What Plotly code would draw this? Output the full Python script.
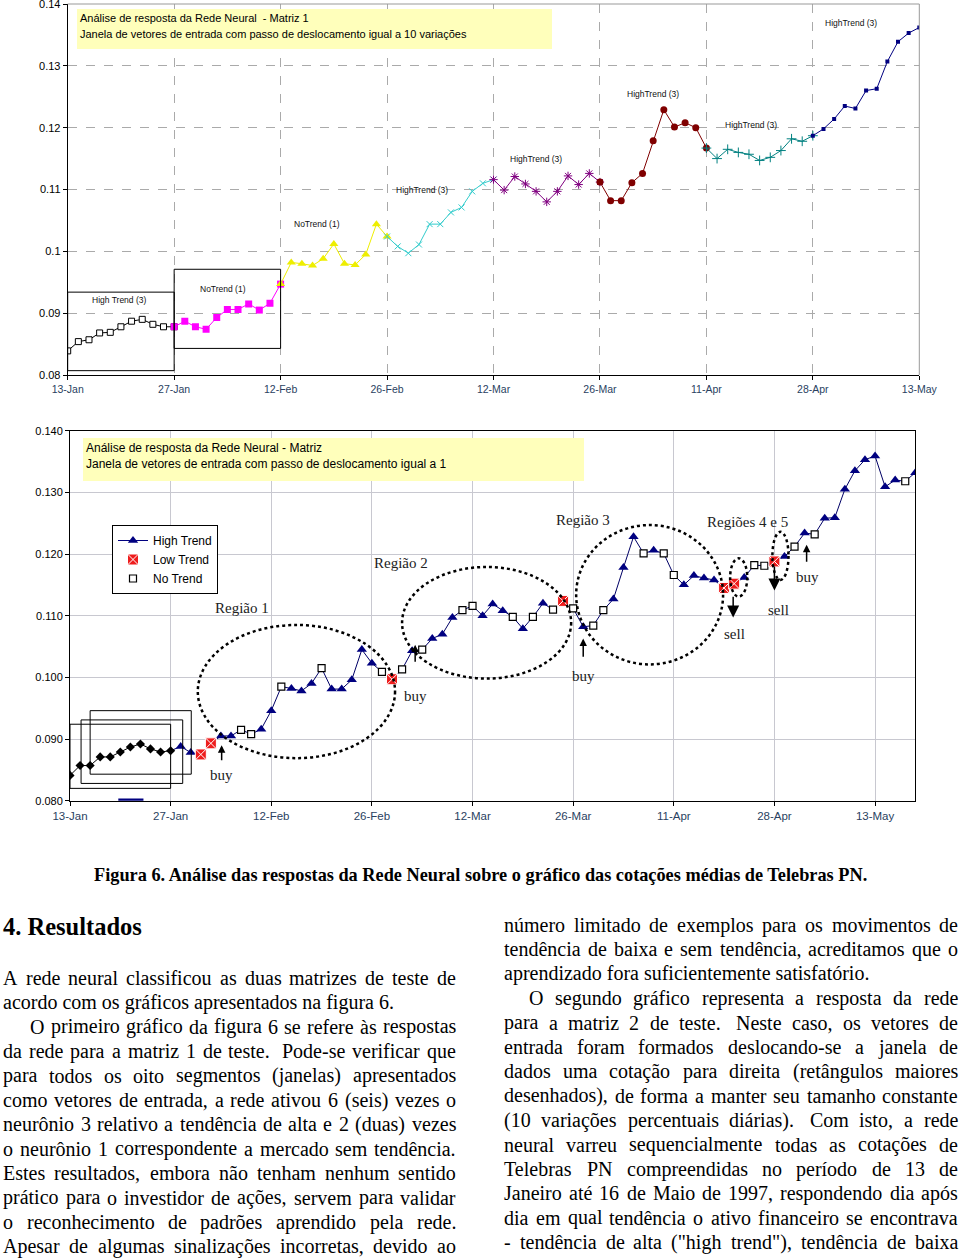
import unicodedata
import plotly.graph_objects as go

W, H = 960, 1258

# eixo x comum aos dois graficos (dias de pregao)
datas = ['13-Jan', '27-Jan', '12-Feb', '26-Feb', '12-Mar', '26-Mar', '11-Apr', '28-Apr', '13-May']
pos_datas = [0, 10, 20, 30, 40, 50, 60, 70, 80]

# grafico 1 - matriz 1 (janelas de 10 variacoes)
precos_m1 = [0.0839, 0.0854, 0.0857, 0.0868, 0.0869, 0.0878, 0.0887, 0.0890, 0.0882, 0.0878,
             0.0878, 0.0887, 0.0878, 0.0874, 0.0893, 0.0906, 0.0906, 0.0915, 0.0905, 0.0916,
             0.0947, 0.0982, 0.0980, 0.0977, 0.0988, 0.1012, 0.0980, 0.0978, 0.0995, 0.1044,
             0.1024, 0.1008, 0.0997, 0.1011, 0.1044, 0.1044, 0.1063, 0.1071, 0.1097, 0.1110,
             0.1116, 0.1099, 0.1121, 0.1109, 0.1097, 0.1080, 0.1097, 0.1122, 0.1108, 0.1126,
             0.1112, 0.1082, 0.1082, 0.1111, 0.1126, 0.1179, 0.1229, 0.1201, 0.1208, 0.1200,
             0.1167, 0.1150, 0.1165, 0.1160, 0.1157, 0.1147, 0.1152, 0.1163, 0.1182, 0.1178,
             0.1187, 0.1198, 0.1214, 0.1235, 0.1231, 0.1260, 0.1263, 0.1307, 0.1339, 0.1353,
             0.1362]
rotulos_m1 = ['High Trend (3)', 'NoTrend (1)', 'NoTrend (1)', 'HighTrend (3)',
              'HighTrend (3)', 'HighTrend (3)', 'HighTrend (3)', 'HighTrend (3)']
yticks_m1 = [0.08, 0.09, 0.10, 0.11, 0.12, 0.13, 0.14]
ytext_m1 = ['0.08', '0.09', '0.1', '0.11', '0.12', '0.13', '0.14']

# grafico 2 - matriz 2 (janela deslocada de 1 em 1)
precos_m2 = [0.0841, 0.0857, 0.0857, 0.0871, 0.0871, 0.0879, 0.0887, 0.0892, 0.0884, 0.0879,
             0.0881, 0.0888, 0.0878, 0.0875, 0.0893, 0.0905, 0.0905, 0.0915, 0.0908, 0.0916,
             0.0946, 0.0985, 0.0982, 0.0978, 0.0990, 0.1015, 0.0981, 0.0981, 0.0996, 0.1045,
             0.1023, 0.1009, 0.0997, 0.1013, 0.1043, 0.1045, 0.1063, 0.1070, 0.1097, 0.1109,
             0.1116, 0.1100, 0.1119, 0.1108, 0.1098, 0.1079, 0.1098, 0.1120, 0.1110, 0.1124,
             0.1112, 0.1082, 0.1084, 0.1109, 0.1127, 0.1178, 0.1228, 0.1201, 0.1206, 0.1201,
             0.1166, 0.1150, 0.1165, 0.1161, 0.1158, 0.1145, 0.1152, 0.1162, 0.1182, 0.1181,
             0.1188, 0.1196, 0.1212, 0.1234, 0.1232, 0.1258, 0.1259, 0.1305, 0.1335, 0.1353,
             0.1359, 0.1309, 0.1320, 0.1318, 0.1332]
# E = janela inicial, H = high trend, L = low trend, N = no trend
classe_m2 = list('EEEEEEEEEEE'
                 'HHLLHHNNHH'
                 'NHHHNHHHHH'
                 'NLNHNHHHNN'
                 'HHHNHNHNLN'
                 'HNNHHHNHNN'
                 'HHHHLLHNNL'
                 'HNHNHHHHHH'
                 'HHNH')
yticks_m2 = [0.08, 0.09, 0.10, 0.11, 0.12, 0.13, 0.14]
ytext_m2 = ['0.080', '0.090', '0.100', '0.110', '0.120', '0.130', '0.140']
regioes = ['Região 1', 'Região 2', 'Região 3', 'Regiões 4 e 5']


def px(x):
    return x / W


def py(y):
    return 1 - y / H


fig = go.Figure()

# ---------------- grafico 1 ----------------
cores_m1 = ['#000000', '#ff00ff', '#eeee00', '#33cccc', '#800080', '#800000', '#008080', '#000080']
marcas_m1 = [dict(symbol='square', color='white', size=6, line=dict(color='black', width=1)),
             dict(symbol='square', color='#ff00ff', size=7),
             dict(symbol='triangle-up', color='#eeee00', size=8),
             dict(symbol='x-thin-open', color='#33cccc', size=6, line=dict(color='#33cccc', width=1)),
             dict(symbol='asterisk-open', color='#800080', size=7, line=dict(color='#800080', width=1)),
             dict(symbol='circle', color='#800000', size=7),
             dict(symbol='cross-thin-open', color='#008080', size=7, line=dict(color='#008080', width=1)),
             dict(symbol='square', color='#000080', size=4)]
for k in range(8):
    xs = list(range(10 * k, 10 * k + 11))
    fig.add_trace(go.Scatter(x=xs, y=precos_m1[10 * k:10 * k + 11], mode='lines+markers',
                             line=dict(color=cores_m1[k], width=1), marker=marcas_m1[k],
                             xaxis='x', yaxis='y', showlegend=False, hoverinfo='skip'))

# ---------------- grafico 2 ----------------
xs2 = list(range(len(precos_m2)))
fig.add_trace(go.Scatter(x=xs2[:11], y=precos_m2[:11], mode='lines', line=dict(color='black', width=1),
                         xaxis='x2', yaxis='y2', showlegend=False, hoverinfo='skip'))
fig.add_trace(go.Scatter(x=xs2[10:], y=precos_m2[10:], mode='lines', line=dict(color='#000066', width=1),
                         xaxis='x2', yaxis='y2', showlegend=False, hoverinfo='skip'))

estilos_m2 = {
    'E': dict(symbol='diamond', color='black', size=7),
    'H': dict(symbol='triangle-up', color='#000080', size=9),
    'L': dict(symbol='square-x', color='#ee1c1c', size=11, line=dict(color='white', width=1)),
    'N': dict(symbol='square', color='white', size=7, line=dict(color='black', width=1.2)),
}
for c in ['E', 'N', 'H', 'L']:
    idx = [i for i, v in enumerate(classe_m2) if v == c]
    fig.add_trace(go.Scatter(x=idx, y=[precos_m2[i] for i in idx], mode='markers',
                             marker=estilos_m2[c], xaxis='x2', yaxis='y2',
                             showlegend=False, hoverinfo='skip'))

# legenda
for nome, c in [('High Trend', 'H'), ('Low Trend', 'L'), ('No Trend', 'N')]:
    fig.add_trace(go.Scatter(x=[None], y=[None], name=nome,
                             mode='lines+markers' if c == 'H' else 'markers',
                             line=dict(color='#000080', width=1), marker=estilos_m2[c],
                             xaxis='x2', yaxis='y2', showlegend=True))

shapes = []
anns = []

# moldura do grafico 1 (topo e direita em cinza)
shapes.append(dict(type='line', xref='x domain', yref='y domain', x0=0, x1=1, y0=1, y1=1,
                   line=dict(color='#999999', width=1)))
shapes.append(dict(type='line', xref='x domain', yref='y domain', x0=1, x1=1, y0=0, y1=1,
                   line=dict(color='#999999', width=1)))

# caixas das janelas do grafico 1
shapes.append(dict(type='rect', xref='x', yref='y', x0=0, x1=10, y0=0.0807, y1=0.0934,
                   line=dict(color='black', width=1)))
shapes.append(dict(type='rect', xref='x', yref='y', x0=10, x1=20, y0=0.0843, y1=0.0971,
                   line=dict(color='black', width=1)))

# rotulos das janelas do grafico 1
pos_rot = [(4.8, 0.0922), (14.6, 0.0939), (23.4, 0.1045), (33.3, 0.1100),
           (44.0, 0.1149), (55.0, 0.1254), (64.2, 0.1204), (73.6, 0.1370)]
for (xr, yr), t in zip(pos_rot, rotulos_m1):
    anns.append(dict(x=xr, y=yr, xref='x', yref='y', text=t, showarrow=False,
                     font=dict(family='Liberation Sans', size=8.5, color='#111111')))

# caixa amarela do titulo, grafico 1
shapes.append(dict(type='rect', xref='paper', yref='paper', x0=px(77), x1=px(552), y0=py(49), y1=py(9),
                   fillcolor='#ffffbb', line=dict(width=0), layer='above'))
for yy, t in [(18, 'Análise de resposta da Rede Neural  - Matriz 1'),
              (34, 'Janela de vetores de entrada com passo de deslocamento igual a 10 variações')]:
    anns.append(dict(x=px(79), y=py(yy), xref='paper', yref='paper', xanchor='left', yanchor='middle',
                     text=t, showarrow=False, borderpad=0,
                     font=dict(family='Liberation Sans', size=11, color='black')))

# caixa amarela do titulo, grafico 2
shapes.append(dict(type='rect', xref='paper', yref='paper', x0=px(83), x1=px(584), y0=py(481), y1=py(438),
                   fillcolor='#ffffbb', line=dict(width=0), layer='above'))
for yy, t in [(448, 'Análise de resposta da Rede Neural - Matriz'),
              (464, 'Janela de vetores de entrada com passo de deslocamento igual a 1')]:
    anns.append(dict(x=px(85), y=py(yy), xref='paper', yref='paper', xanchor='left', yanchor='middle',
                     text=t, showarrow=False, borderpad=0,
                     font=dict(family='Liberation Sans', size=12, color='black')))

# janelas deslizantes do grafico 2
for x0, x1, y0, y1 in [(0, 10, 0.0820, 0.0924), (1.1, 11.2, 0.0828, 0.0931), (2, 12.05, 0.0843, 0.0946)]:
    shapes.append(dict(type='rect', xref='x2', yref='y2', x0=x0, x1=x1, y0=y0, y1=y1,
                       line=dict(color='black', width=1)))
shapes.append(dict(type='line', xref='x2', yref='y2', x0=4.8, x1=7.3, y0=0.0801, y1=0.0801,
                   line=dict(color='#000080', width=3)))

# regioes (elipses pontilhadas)
for x0, x1, y0, y1 in [(12.7, 32.3, 0.0869, 0.1085), (33.0, 49.8, 0.0998, 0.1179),
                       (50.3, 64.9, 0.1021, 0.1247), (65.6, 67.3, 0.1131, 0.1193),
                       (69.8, 71.4, 0.1158, 0.1236)]:
    shapes.append(dict(type='circle', xref='x2', yref='y2', x0=x0, x1=x1, y0=y0, y1=y1,
                       line=dict(color='black', width=2.5, dash='dot')))
for (xr, yr), t in zip([(17.05, 0.1113), (32.9, 0.1186), (51.0, 0.1256), (67.3, 0.1252)], regioes):
    anns.append(dict(x=xr, y=yr, xref='x2', yref='y2', text=t, showarrow=False,
                     font=dict(family='Liberation Serif', size=15, color='#222222')))

# setas de compra e venda
for xa, yt, yh, tam in [(15.07, 0.0863, 0.0890, 1.0), (34.3, 0.1023, 0.1053, 1.0),
                        (51.0, 0.1031, 0.1063, 1.0), (73.2, 0.1185, 0.1215, 1.0),
                        (65.9, 0.1133, 0.1097, 1.6), (70.0, 0.1182, 0.1141, 1.6)]:
    anns.append(dict(x=xa, y=yh, ax=xa, ay=yt, xref='x2', yref='y2', axref='x2', ayref='y2',
                     text='', showarrow=True, arrowhead=2, arrowsize=tam, arrowwidth=1.5,
                     arrowcolor='black', standoff=0, startstandoff=0))
for xr, yr, t in [(15.07, 0.0841, 'buy'), (34.3, 0.0969, 'buy'), (51.0, 0.1003, 'buy'),
                  (73.3, 0.1162, 'buy'), (66.0, 0.1070, 'sell'), (70.4, 0.1109, 'sell')]:
    anns.append(dict(x=xr, y=yr, xref='x2', yref='y2', text=t, showarrow=False,
                     font=dict(family='Liberation Serif', size=15, color='#222222')))

# ---------------- texto do artigo ----------------
LARG = {' ': 250, 'a': 444, 'b': 500, 'c': 444, 'd': 500, 'e': 444, 'f': 333, 'g': 500, 'h': 500,
        'i': 278, 'j': 278, 'k': 500, 'l': 278, 'm': 778, 'n': 500, 'o': 500, 'p': 500, 'q': 500,
        'r': 333, 's': 389, 't': 278, 'u': 500, 'v': 500, 'w': 722, 'x': 500, 'y': 500, 'z': 444,
        'A': 722, 'B': 667, 'C': 667, 'D': 722, 'E': 611, 'F': 556, 'G': 722, 'H': 722, 'I': 333,
        'J': 389, 'K': 722, 'L': 611, 'M': 889, 'N': 722, 'O': 722, 'P': 556, 'Q': 722, 'R': 667,
        'S': 556, 'T': 611, 'U': 722, 'V': 722, 'W': 944, 'X': 722, 'Y': 722, 'Z': 611,
        '.': 250, ',': 250, '(': 333, ')': 333, '-': 333, '"': 408, ':': 278, ';': 278}
TAM = 20


def largura(txt):
    return sum(LARG.get(unicodedata.normalize('NFD', ch)[0], 500) for ch in txt) * TAM / 1000


def linha(texto, x0, x1, y, justificar):
    fonte = dict(family='Liberation Serif', size=TAM, color='black')
    if not justificar:
        anns.append(dict(x=px(x0), y=py(y), xref='paper', yref='paper', xanchor='left', yanchor='middle',
                         text=texto, showarrow=False, borderpad=0, font=fonte))
        return
    palavras, extras, n = [], [], 0
    for p in texto.split(' '):
        if p == '':
            n += 1
            continue
        palavras.append(p)
        extras.append(n)
        n = 0
    esp = largura(' ')
    livre = (x1 - x0) - sum(largura(p) for p in palavras) - sum(extras) * esp
    gap = livre / (len(palavras) - 1)
    x = x0
    for i, p in enumerate(palavras):
        if i > 0:
            x += gap + extras[i] * esp
        anns.append(dict(x=px(x), y=py(y), xref='paper', yref='paper', xanchor='left', yanchor='middle',
                         text=p, showarrow=False, borderpad=0, font=fonte))
        x += largura(p)


col_esq = [
    (0, 'A rede neural classificou as duas matrizes de teste de', True),
    (0, 'acordo com os gráficos apresentados na figura 6.', False),
    (27, 'O primeiro gráfico da figura 6 se refere às respostas', True),
    (0, 'da rede para a matriz 1 de teste.  Pode-se verificar que', True),
    (0, 'para todos os oito segmentos (janelas) apresentados', True),
    (0, 'como vetores de entrada, a rede ativou 6 (seis) vezes o', True),
    (0, 'neurônio 3 relativo a tendência de alta e 2 (duas) vezes', True),
    (0, 'o neurônio 1 correspondente a mercado sem tendência.', True),
    (0, 'Estes resultados, embora não tenham nenhum sentido', True),
    (0, 'prático para o investidor de ações, servem para validar', True),
    (0, 'o reconhecimento de padrões aprendido pela rede.', True),
    (0, 'Apesar de algumas sinalizações incorretas, devido ao', True),
]
col_dir = [
    (0, 'número limitado de exemplos para os movimentos de', True),
    (0, 'tendência de baixa e sem tendência, acreditamos que o', True),
    (0, 'aprendizado fora suficientemente satisfatório.', False),
    (25, 'O segundo gráfico representa a resposta da rede', True),
    (0, 'para a matriz 2 de teste.  Neste caso, os vetores de', True),
    (0, 'entrada foram formados deslocando-se a janela de', True),
    (0, 'dados uma cotação para direita (retângulos maiores', True),
    (0, 'desenhados), de forma a manter seu tamanho constante', True),
    (0, '(10 variações percentuais diárias).  Com isto, a rede', True),
    (0, 'neural varreu sequencialmente todas as cotações de', True),
    (0, 'Telebras PN compreendidas no período de 13 de', True),
    (0, 'Janeiro até 16 de Maio de 1997, respondendo dia após', True),
    (0, 'dia em qual tendência o ativo financeiro se encontrava', True),
    (0, '- tendência de alta ("high trend"), tendência de baixa', True),
]
for i, (ind, t, j) in enumerate(col_esq):
    linha(t, 2 + ind, 455, 978 + 24.4 * i, j)
for i, (ind, t, j) in enumerate(col_dir):
    linha(t, 503 + ind, 957, 925 + 24.4 * i, j)

anns.append(dict(x=px(480), y=py(875), xref='paper', yref='paper', xanchor='center', yanchor='middle',
                 text='<b>Figura 6. Análise das respostas da Rede Neural sobre o gráfico das cotações médias de Telebras PN.</b>',
                 showarrow=False, borderpad=0, font=dict(family='Liberation Serif', size=18.3, color='black')))
anns.append(dict(x=px(2), y=py(927), xref='paper', yref='paper', xanchor='left', yanchor='middle',
                 text='<b>4. Resultados</b>', showarrow=False, borderpad=0,
                 font=dict(family='Liberation Serif', size=24.5, color='black')))

eixo_fonte = dict(family='Liberation Sans', size=11, color='black')
fig.update_layout(
    width=W, height=H, margin=dict(l=0, r=0, t=0, b=0, autoexpand=False),
    paper_bgcolor='white', plot_bgcolor='white',
    shapes=shapes, annotations=anns,
    xaxis=dict(domain=[px(67.7), px(919.3)], anchor='y', range=[0, 80], automargin=False,
               tickvals=pos_datas, ticktext=datas, tickfont=dict(family='Liberation Sans', size=10.5),
               showgrid=True, gridcolor='#aaaaaa', griddash='dash', gridwidth=1,
               showline=True, linecolor='black', linewidth=1, ticks='outside', ticklen=4,
               tickcolor='black', zeroline=False, ticklabeloverflow='allow'),
    yaxis=dict(domain=[py(375), py(4)], anchor='x', range=[0.08, 0.14], automargin=False,
               tickvals=yticks_m1, ticktext=ytext_m1, tickfont=eixo_fonte,
               showgrid=True, gridcolor='#aaaaaa', griddash='dash', gridwidth=1,
               showline=True, linecolor='black', linewidth=1, ticks='outside', ticklen=4,
               tickcolor='black', zeroline=False, ticklabeloverflow='allow'),
    xaxis2=dict(domain=[px(70), px(915.3)], anchor='y2', range=[0, 84], automargin=False,
                tickvals=pos_datas, ticktext=datas, tickfont=dict(family='Liberation Sans', size=11.5),
                showgrid=True, gridcolor='#c8c8d0', gridwidth=1,
                showline=True, mirror=True, linecolor='black', linewidth=1, ticks='outside', ticklen=4,
                tickcolor='black', zeroline=False),
    yaxis2=dict(domain=[py(800.7), py(430.7)], anchor='x2', range=[0.08, 0.14], automargin=False,
                tickvals=yticks_m2, ticktext=ytext_m2, tickfont=eixo_fonte,
                showgrid=True, gridcolor='#c8c8d0', gridwidth=1,
                showline=True, mirror=True, linecolor='black', linewidth=1, ticks='outside', ticklen=4,
                tickcolor='black', zeroline=False),
    legend=dict(x=px(112), y=py(525), xanchor='left', yanchor='top', bgcolor='white',
                bordercolor='black', borderwidth=1, font=dict(family='Liberation Sans', size=12, color='black'),
                tracegroupgap=0, itemwidth=30),
)

# sem margem do <body>, para a figura ocupar a janela exatamente
fig.write_html("out.html", config={'displayModeBar': False},
               post_script="document.body.style.margin='0';")
